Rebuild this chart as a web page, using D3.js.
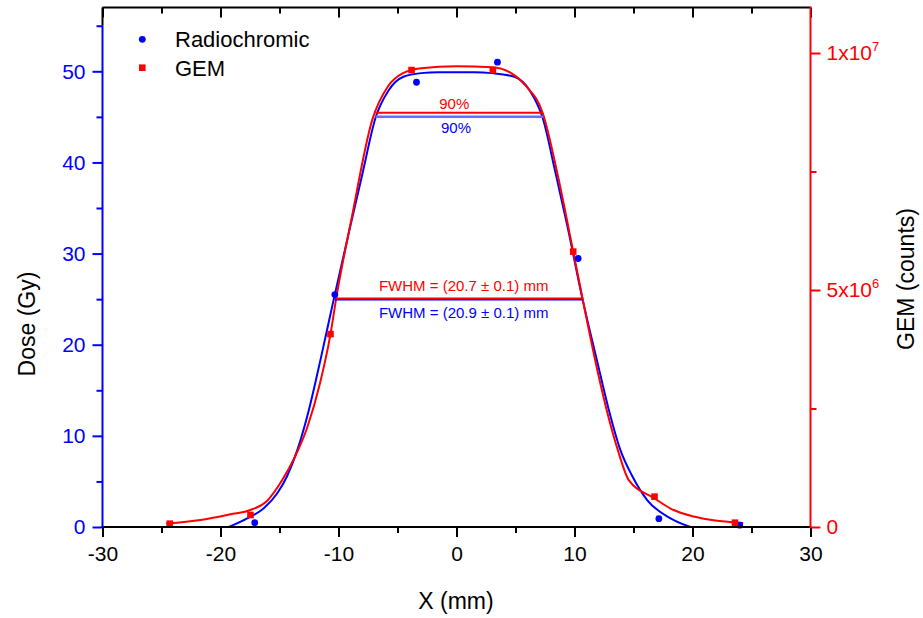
<!DOCTYPE html>
<html>
<head>
<meta charset="utf-8">
<script src="https://cdn.jsdelivr.net/npm/d3@7"></script>
<style>
  html, body { margin: 0; padding: 0; background: #fff; }
  svg text { font-family: "Liberation Sans", Arial, sans-serif; }
</style>
</head>
<body>
<svg id="chart" width="923" height="618"></svg>
<script>
// Measured points: radiochromic film dose (Gy) and GEM detector counts
const filmX = [-17.1, -10.31, -3.39, 3.47, 10.31, 17.15, 24.0];
const filmDose = [0.47, 25.5, 48.8, 51.0, 29.46, 0.91, 0.2];
const gemX = [-24.3, -17.46, -10.68, -3.81, 3.08, 9.89, 16.78, 23.6];
const gemCounts = [0.07e6, 0.253e6, 4.07e6, 9.64e6, 9.64e6, 5.81e6, 0.64e6, 0.091e6];

// Fitted profiles
const filmFitX = [-19.3, -17.74, -16.33, -15.19, -14.35, -13.5, -12.5, -11.5, -10.4, -9.0, -8.0, -6.86,
  -5.76, -4.5, -3.0, -1.5, 0, 1.5, 3.0, 4.9, 6.2, 7.3, 8.4, 9.4, 10.68, 11.9, 12.9, 13.9, 14.89, 16.16, 18.14, 19.83];
const filmFitDose = [0, 0.95, 2.05, 3.7, 5.6, 8.4, 12.9, 18.5, 25.0, 33.0, 38.6, 44.9,
  47.9, 49.4, 49.8, 49.9, 49.9, 49.9, 49.8, 49.4, 47.9, 44.9, 38.8, 33.0, 25.0, 18.3, 12.9, 8.4, 5.6, 2.96, 0.95, 0];
const gemFitX = [-24.6, -21.69, -19.15, -17.46, -16.04, -14.77, -13.75, -12.65, -11.6, -10.68, -10.17, -8.9,
  -7.14, -5.8, -4.5, -3.0, 0, 3.0, 4.6, 5.9, 7.3, 8.6, 9.89, 10.65, 11.9, 12.9, 13.7, 14.6, 16.78, 18.14, 20.1, 22.09, 24.3];
const gemFitCounts = [0.072e6, 0.148e6, 0.268e6, 0.359e6, 0.555e6, 0.99e6, 1.45e6, 2.1e6, 3.0e6, 4.07e6, 4.86e6, 6.5e6,
  8.59e6, 9.3e6, 9.58e6, 9.68e6, 9.72e6, 9.70e6, 9.58e6, 9.3e6, 8.74e6, 7.4e6, 5.81e6, 4.86e6, 3.35e6, 2.3e6, 1.6e6, 0.99e6, 0.605e6, 0.39e6, 0.22e6, 0.13e6, 0.085e6];

// Width markers: 90% level and FWHM for each profile
const film90 = { x0: -6.86, x1: 7.35, level: 45.0 };
const gem90 = { x0: -6.86, x1: 7.26, level: 8.74e6 };
const filmFwhm = { x0: -10.31, x1: 10.68, level: 24.95 };
const gemFwhm = { x0: -10.25, x1: 10.68, level: 4.82e6 };
const gemFwhmLabel = "FWHM = (20.7 ± 0.1) mm";
const filmFwhmLabel = "FWHM = (20.9 ± 0.1) mm";

// Tick values
const xMajor = [-30, -20, -10, 0, 10, 20, 30];
const xMinor = [-25, -15, -5, 5, 15, 25];
const doseMajor = [0, 10, 20, 30, 40, 50];
const doseMinor = [5, 15, 25, 35, 45, 55];
const gemMajor = [0, 5e6, 1e7];
const gemMinor = [2.5e6, 7.5e6];
const gemTickText = [["0", ""], ["5x10", "6"], ["1x10", "7"]];

const BLUE = "#0000ff", RED = "#ff0000";
const L = 102.5, R = 810.5, T = 7.5, B = 527;

const svg = d3.select("#chart");
const x = d3.scaleLinear().domain([-30, 30]).range([L, R]);
const yDose = d3.scaleLinear().domain([0, 57]).range([B, T]);
const yGem = d3.scaleLinear().domain([0, 1.096e7]).range([B, T]);

svg.append("defs").append("clipPath").attr("id", "plot")
  .append("rect").attr("x", L).attr("y", T).attr("width", R - L).attr("height", B - T);

// Fitted curves
const filmLine = d3.line().x(d => x(d[0])).y(d => yDose(d[1])).curve(d3.curveMonotoneX);
const gemLine = d3.line().x(d => x(d[0])).y(d => yGem(d[1])).curve(d3.curveMonotoneX);
const plot = svg.append("g").attr("clip-path", "url(#plot)");
plot.append("path").datum(d3.zip(filmFitX, filmFitDose))
  .attr("d", filmLine).attr("fill", "none").attr("stroke", BLUE).attr("stroke-width", 2);
plot.append("path").datum(d3.zip(gemFitX, gemFitCounts))
  .attr("d", gemLine).attr("fill", "none").attr("stroke", RED).attr("stroke-width", 2);

// 90% and FWHM bars
function hbar(m, yScale, color, w) {
  svg.append("line")
    .attr("x1", x(m.x0)).attr("x2", x(m.x1))
    .attr("y1", yScale(m.level)).attr("y2", yScale(m.level))
    .attr("stroke", color).attr("stroke-width", w);
}
hbar(film90, yDose, "#6a6aff", 2.5);
hbar(gem90, yGem, RED, 2);
hbar(filmFwhm, yDose, BLUE, 2);
hbar(gemFwhm, yGem, RED, 2);

svg.append("text").attr("x", 454.3).attr("y", yGem(gem90.level) - 3.5)
  .attr("text-anchor", "middle").attr("font-size", 15).attr("fill", RED).text("90%");
svg.append("text").attr("x", 456).attr("y", yDose(film90.level) + 16)
  .attr("text-anchor", "middle").attr("font-size", 15).attr("fill", BLUE).text("90%");
svg.append("text").attr("x", 463.7).attr("y", yGem(gemFwhm.level) - 8)
  .attr("text-anchor", "middle").attr("font-size", 15).attr("fill", RED).text(gemFwhmLabel);
svg.append("text").attr("x", 463.7).attr("y", yDose(filmFwhm.level) + 18)
  .attr("text-anchor", "middle").attr("font-size", 15).attr("fill", BLUE).text(filmFwhmLabel);

// Data markers
svg.append("g").selectAll("circle").data(d3.zip(filmX, filmDose)).join("circle")
  .attr("cx", d => x(d[0])).attr("cy", d => yDose(d[1])).attr("r", 3.4).attr("fill", BLUE);
const sq = 6.6;
svg.append("g").selectAll("rect").data(d3.zip(gemX, gemCounts)).join("rect")
  .attr("x", d => x(d[0]) - sq / 2).attr("y", d => yGem(d[1]) - sq / 2)
  .attr("width", sq).attr("height", sq).attr("fill", RED);

// Frame
svg.append("path").attr("d", `M${L},${T}H${R}`).attr("stroke", "#000").attr("stroke-width", 2);
svg.append("path").attr("d", `M${L},${yDose(55)}V${T}`).attr("stroke", "#000").attr("stroke-width", 2);

function styleAxis(g, color, size) {
  g.select(".domain").remove();
  g.selectAll(".tick line").attr("stroke", color).attr("stroke-width", 2);
  g.selectAll(".tick text").attr("fill", color).attr("font-size", size)
    .attr("font-family", "Liberation Sans, Arial, sans-serif");
}

// Bottom axis
const gxMaj = svg.append("g").attr("transform", `translate(0,${B})`)
  .call(d3.axisBottom(x).tickValues(xMajor).tickSize(10).tickPadding(9).tickFormat(d3.format("d")));
styleAxis(gxMaj, "#000", 21);
gxMaj.selectAll(".tick text").text(d => d < 0 ? "-" + Math.abs(d) : String(d));
const gxMin = svg.append("g").attr("transform", `translate(0,${B})`)
  .call(d3.axisBottom(x).tickValues(xMinor).tickSize(6).tickFormat(""));
styleAxis(gxMin, "#000", 21);
// Top axis: inward ticks, no labels
const gtMaj = svg.append("g").attr("transform", `translate(0,${T})`)
  .call(d3.axisBottom(x).tickValues(xMajor).tickSize(10).tickFormat(""));
styleAxis(gtMaj, "#000", 21);
const gtMin = svg.append("g").attr("transform", `translate(0,${T})`)
  .call(d3.axisBottom(x).tickValues(xMinor).tickSize(6).tickFormat(""));
styleAxis(gtMin, "#000", 21);
svg.append("path").attr("d", `M${L - 1},${B}H${R + 1}`).attr("stroke", "#000").attr("stroke-width", 2);

// Left dose axis
const gyMaj = svg.append("g").attr("transform", `translate(${L},0)`)
  .call(d3.axisLeft(yDose).tickValues(doseMajor).tickSize(10).tickPadding(7));
styleAxis(gyMaj, BLUE, 21);
const gyMin = svg.append("g").attr("transform", `translate(${L},0)`)
  .call(d3.axisLeft(yDose).tickValues(doseMinor).tickSize(6).tickFormat(""));
styleAxis(gyMin, BLUE, 21);
svg.append("path").attr("d", `M${L},${B}V${yDose(55)}`).attr("stroke", BLUE).attr("stroke-width", 2);

// Right GEM axis
const grMaj = svg.append("g").attr("transform", `translate(${R},0)`)
  .call(d3.axisRight(yGem).tickValues(gemMajor).tickSize(10).tickPadding(6).tickFormat(""));
styleAxis(grMaj, RED, 21);
grMaj.selectAll(".tick text").each(function (d, i) {
  const t = d3.select(this);
  t.text(null);
  t.append("tspan").text(gemTickText[i][0]);
  if (gemTickText[i][1]) {
    t.append("tspan").attr("font-size", 13).attr("dy", -9).text(gemTickText[i][1]);
  }
});
const grMin = svg.append("g").attr("transform", `translate(${R},0)`)
  .call(d3.axisRight(yGem).tickValues(gemMinor).tickSize(6).tickFormat(""));
styleAxis(grMin, RED, 21);
svg.append("path").attr("d", `M${R},${B + 1}V${T - 1}`).attr("stroke", RED).attr("stroke-width", 2);

// Axis titles
svg.append("text").attr("x", 456).attr("y", 609).attr("text-anchor", "middle")
  .attr("font-size", 23).attr("fill", "#000").text("X (mm)");
svg.append("text").attr("transform", "translate(35,324) rotate(-90)").attr("text-anchor", "middle")
  .attr("font-size", 23).attr("fill", "#000").text("Dose (Gy)");
svg.append("text").attr("transform", "translate(914,279) rotate(-90)").attr("text-anchor", "middle")
  .attr("font-size", 23).attr("fill", "#000").text("GEM (counts)");

// Legend
const legend = svg.append("g");
legend.append("circle").attr("cx", 142.3).attr("cy", 39.3).attr("r", 3.4).attr("fill", BLUE);
legend.append("rect").attr("x", 142.3 - sq / 2).attr("y", 67.7 - sq / 2).attr("width", sq).attr("height", sq).attr("fill", RED);
legend.append("text").attr("x", 175).attr("y", 47).attr("font-size", 22).attr("fill", "#000").text("Radiochromic");
legend.append("text").attr("x", 175).attr("y", 75.5).attr("font-size", 22).attr("fill", "#000").text("GEM");
</script>
</body>
</html>
